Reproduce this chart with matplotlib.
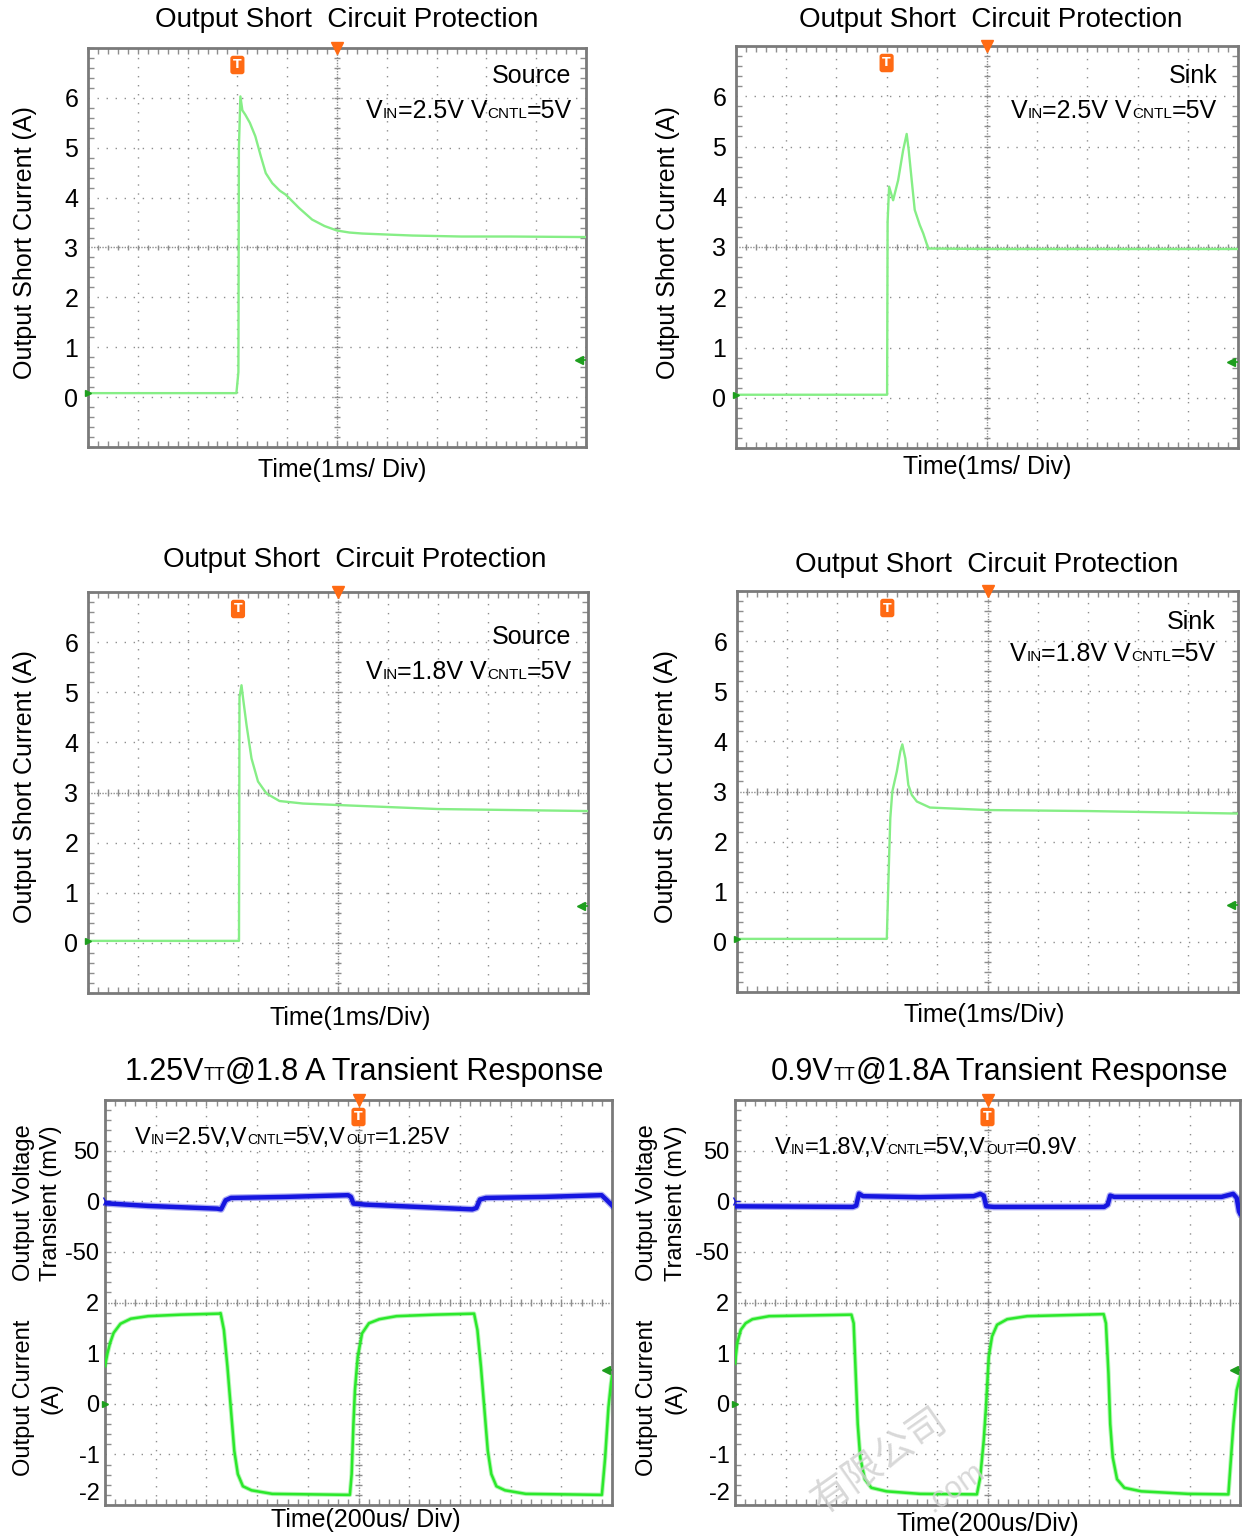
import numpy as np
import matplotlib
matplotlib.use("Agg")
import matplotlib.pyplot as plt
from matplotlib.ticker import MultipleLocator, NullLocator
from matplotlib.offsetbox import TextArea, HPacker, AnnotationBbox
from matplotlib import font_manager as fm

plt.rcParams['axes.unicode_minus'] = False

# ---------------- data ----------------
# Short-circuit panels: time in ms (1 ms/div), current in A
t_src25 = [0, 2.98, 3.02, 3.03, 3.06, 3.10, 3.16, 3.25, 3.36, 3.47, 3.57, 3.70, 3.85, 3.97,
           4.10, 4.24, 4.50, 4.75, 5.00, 5.25, 5.51, 6.0, 6.51, 7.5, 8.5, 9.87, 10.0]
i_src25 = [0.08, 0.08, 0.5, 5.0, 6.03, 5.75, 5.66, 5.50, 5.23, 4.83, 4.49, 4.29, 4.14, 4.06,
           3.93, 3.79, 3.56, 3.43, 3.34, 3.30, 3.28, 3.26, 3.24, 3.22, 3.22, 3.21, 3.21]

t_snk25 = [0, 3.01, 3.02, 3.05, 3.13, 3.23, 3.33, 3.40, 3.44, 3.50, 3.56, 3.66, 3.73, 3.83, 5.0, 10.0]
i_snk25 = [0.06, 0.06, 3.5, 4.2, 3.93, 4.33, 4.93, 5.25, 4.93, 4.33, 3.74, 3.44, 3.27, 2.97, 2.96, 2.96]

t_src18 = [0, 3.02, 3.03, 3.07, 3.10, 3.17, 3.27, 3.40, 3.57, 3.83, 4.3, 5.0, 6.0, 7.0, 8.5, 10.0]
i_src18 = [0.04, 0.04, 4.9, 5.14, 4.89, 4.35, 3.68, 3.22, 2.98, 2.83, 2.78, 2.75, 2.71, 2.67, 2.65, 2.63]

t_snk18 = [0, 2.99, 3.02, 3.06, 3.10, 3.19, 3.26, 3.30, 3.36, 3.42, 3.49, 3.59, 3.85, 5.0, 7.0, 10.0]
i_snk18 = [0.06, 0.06, 1.14, 2.47, 3.0, 3.40, 3.80, 3.94, 3.66, 3.13, 2.93, 2.80, 2.68, 2.63, 2.61, 2.56]

# Transient panels: time in us (200 us/div), voltage in mV, current in A
t_v125 = [0, 170, 442, 458, 476, 497, 714, 959, 970, 980, 1027, 1449, 1465, 1479, 1503, 1735, 1959, 1980, 2000]
v_125 = [-2, -4.6, -7.3, -8, 1, 3.3, 4.3, 6, 4.3, -2.3, -3.3, -8, -6.6, 1.7, 3.3, 4.3, 6, 1, -4]
t_i125 = [0, 10, 20, 34, 61, 102, 170, 300, 449, 456, 469, 483, 497, 510, 524, 544, 578, 660, 966,
          973, 980, 986, 997, 1014, 1041, 1082, 1150, 1300, 1456, 1469, 1483, 1497, 1510, 1524, 1544,
          1578, 1660, 1960, 1973, 1986, 1996, 2000]
i_125 = [0.75, 1.0, 1.2, 1.4, 1.58, 1.68, 1.73, 1.76, 1.78, 1.79, 1.46, 0.73, -0.13, -0.93, -1.39, -1.63,
         -1.71, -1.78, -1.80, -1.39, -0.4, 0.27, 0.93, 1.39, 1.59, 1.67, 1.73, 1.76, 1.78, 1.46, 0.73,
         -0.13, -0.93, -1.39, -1.63, -1.71, -1.78, -1.80, -1.06, -0.07, 0.4, 0.55]

t_v09 = [0, 467, 480, 491, 507, 733, 945, 971, 985, 995, 1025, 1462, 1476, 1486, 1502, 1927, 1973, 1987, 1996, 2000]
v_09 = [-5, -5.6, -4.3, 7.6, 5, 4, 5, 7.3, 5.6, -5, -5.6, -5.6, -3.3, 5.6, 4.3, 4.3, 7.3, 3.3, -10, -12]
t_i09 = [0, 9, 23, 42, 69, 135, 461, 470, 478, 486, 496, 514, 540, 600, 733, 958, 971, 985, 994, 1005,
         1018, 1038, 1078, 1157, 1460, 1469, 1479, 1486, 1496, 1513, 1542, 1609, 1794, 1954, 1974,
         1987, 2000]
i_09 = [0.8, 1.2, 1.46, 1.59, 1.67, 1.73, 1.76, 1.59, 0.6, -0.4, -1.06, -1.49, -1.66, -1.73, -1.78,
        -1.79, -1.46, -0.73, -0.07, 0.93, 1.33, 1.56, 1.67, 1.73, 1.77, 1.59, 0.6, -0.4, -1.06, -1.49,
        -1.66, -1.73, -1.78, -1.79, -0.4, 0.27, 0.53]

sc_ticks = [0, 1, 2, 3, 4, 5, 6]
v_ticks = [-50, 0, 50]
i_ticks = [-2, -1, 0, 1, 2]

sc_title = "Output Short  Circuit Protection"
sc_ylabel = "Output Short Current (A)"

# ---------------- style ----------------
def pick(names):
    for n in names:
        try:
            fm.findfont(fm.FontProperties(family=n), fallback_to_default=False)
            return n
        except Exception:
            pass
    return "DejaVu Sans"

FONT = pick(["Liberation Sans Narrow", "Liberation Sans", "Arial"])
plt.rcParams['font.family'] = [FONT, 'DejaVu Sans']
CJK = pick(["Noto Sans CJK SC", "Noto Sans CJK JP"])

GRID = "#8e8e8e"
ORANGE = "#FF6A13"
SC_GREEN = "#86EE86"
TR_GREEN = "#2BE82B"
BLUE = "#1616E0"
MARK_GREEN = "#1E9E1E"

W, H = 1245, 1537
fig = plt.figure(figsize=(W / 100, H / 100), dpi=100)


def fx(x):
    return x / W


def fy(y):
    return 1 - y / H


def add_axes(r):
    x0, y0, x1, y1 = r
    return fig.add_axes([x0 / W, 1 - y1 / H, (x1 - x0) / W, (y1 - y0) / H])


def scope_frame(ax, xlim, ylim, xdiv, ydiv):
    ax.set_xlim(*xlim)
    ax.set_ylim(*ylim)
    xc = (xlim[0] + xlim[1]) / 2
    yc = (ylim[0] + ylim[1]) / 2
    for x in np.arange(xlim[0] + xdiv, xlim[1] - xdiv / 2, xdiv):
        if abs(x - xc) > 1e-9:
            ax.axvline(x, color=GRID, lw=1.0, ls=(0, (1, 5.5)), zorder=1)
    for y in np.arange(ylim[0] + ydiv, ylim[1] - ydiv / 2, ydiv):
        if abs(y - yc) > 1e-9:
            ax.axhline(y, color=GRID, lw=1.0, ls=(0, (1, 5.5)), zorder=1)
    ax.axvline(xc, color=GRID, lw=1.0, ls=(0, (1, 1)), zorder=1)
    ax.axhline(yc, color=GRID, lw=1.0, ls=(0, (1, 1)), zorder=1)
    ty = np.arange(ylim[0], ylim[1] + 1e-9, ydiv / 5)
    ax.hlines(ty, xc - xdiv * 0.06, xc + xdiv * 0.06, color=GRID, lw=1, zorder=1)
    tx = np.arange(xlim[0], xlim[1] + 1e-9, xdiv / 5)
    ax.vlines(tx, yc - ydiv * 0.06, yc + ydiv * 0.06, color=GRID, lw=1, zorder=1)
    ax.xaxis.set_minor_locator(MultipleLocator(xdiv / 5))
    ax.yaxis.set_minor_locator(MultipleLocator(ydiv / 5))
    ax.tick_params(which='minor', direction='in', length=4, width=1, color=GRID,
                   top=True, right=True, bottom=True, left=True)
    ax.tick_params(which='major', length=0)
    ax.set_xticks([])
    for s in ax.spines.values():
        s.set_color("#7a7a7a")
        s.set_linewidth(2)


def trig_marks(ax, t_trig, xc):
    ax.annotate('T', xy=(t_trig, 1), xycoords=('data', 'axes fraction'), xytext=(0, -17),
                textcoords='offset pixels', ha='center', va='center', fontsize=9,
                color='white', fontweight='bold', family='DejaVu Sans',
                bbox=dict(boxstyle='round,pad=0.22', fc=ORANGE, ec='none'), zorder=6)
    ax.plot([xc], [1], marker='v', color=ORANGE, ms=8, clip_on=False,
            transform=ax.get_xaxis_transform(), zorder=6)


def rich(parts, xy, align, coords='figure fraction'):
    boxes = [TextArea(s, textprops=dict(fontsize=fs, family=FONT, color='black')) for s, fs in parts]
    pack = HPacker(children=boxes, align='baseline', pad=0, sep=0)
    ab = AnnotationBbox(pack, xy, xycoords=coords, box_alignment=align, frameon=False, pad=0)
    fig.add_artist(ab)


# ---------------- short-circuit panels ----------------
sc_panels = [
    dict(rect=(88, 48, 586, 447), t=t_src25, i=i_src25, title=(347, 20), xl=(342, 470),
         xlabel="Time(1ms/ Div)", yl=(25, 243), mode="Source",
         modepos=(571, 76), vpos=(572, 111), vin="2.5V", arrow=0.74),
    dict(rect=(736, 46, 1238, 448), t=t_snk25, i=i_snk25, title=(991, 20), xl=(987, 467),
         xlabel="Time(1ms/ Div)", yl=(668, 243), mode="Sink",
         modepos=(1218, 76), vpos=(1217, 111), vin="2.5V", arrow=0.72),
    dict(rect=(88, 592, 588, 993), t=t_src18, i=i_src18, title=(355, 560), xl=(350, 1018),
         xlabel="Time(1ms/Div)", yl=(25, 787), mode="Source",
         modepos=(571, 637), vpos=(572, 672), vin="1.8V", arrow=0.73),
    dict(rect=(737, 591, 1238, 992), t=t_snk18, i=i_snk18, title=(987, 565), xl=(984, 1015),
         xlabel="Time(1ms/Div)", yl=(666, 787), mode="Sink",
         modepos=(1216, 622), vpos=(1216, 654), vin="1.8V", arrow=0.73),
]

for p in sc_panels:
    ax = add_axes(p['rect'])
    scope_frame(ax, (0, 10), (-1, 7), 1, 1)
    ax.set_yticks(sc_ticks)
    ax.set_yticklabels([str(v) for v in sc_ticks])
    ax.tick_params(axis='y', which='major', labelsize=18, pad=7)
    ax.plot(p['t'], p['i'], color=SC_GREEN, lw=1.7, zorder=4, solid_joinstyle='round')
    trig_marks(ax, 3.0, 5.0)
    ax.plot([9.86], [p['arrow']], marker='<', color=MARK_GREEN, ms=6, zorder=6)
    ax.plot([9.86, 10], [p['arrow'], p['arrow']], color=MARK_GREEN, lw=1.2, zorder=6)
    ax.plot([0.0], [p['i'][0]], marker='>', color=MARK_GREEN, ms=4, clip_on=False, zorder=6)
    fig.text(fx(p['title'][0]), fy(p['title'][1]), sc_title, ha='center', va='center', fontsize=20)
    fig.text(fx(p['xl'][0]), fy(p['xl'][1]), p['xlabel'], ha='center', va='center', fontsize=18)
    fig.text(fx(p['yl'][0]), fy(p['yl'][1]), sc_ylabel, ha='center', va='center',
             fontsize=18, rotation=90)
    fig.text(fx(p['modepos'][0]), fy(p['modepos'][1]), p['mode'], ha='right', va='center', fontsize=18)
    rich([("V", 18), ("IN", 11), ("=" + p['vin'] + " V", 18), ("CNTL", 11), ("=5V", 18)],
         (fx(p['vpos'][0]), fy(p['vpos'][1])), (1, 0.5))

# ---------------- transient panels ----------------
tr_panels = [
    dict(rect=(105, 1100, 612, 1505), tv=t_v125, v=v_125, ti=t_i125, i=i_125,
         title=[("1.25V", 22), ("TT", 13), ("@1.8 A Transient Response", 22)], title_x=364,
         xl=(366, 1520), xlabel="Time(200us/ Div)", ylx=(24, 51),
         note=[("V", 17), ("IN", 10), ("=2.5V,V", 17), ("CNTL", 10), ("=5V,V", 17), ("OUT", 10),
               ("=1.25V", 17)], note_pos=(135, 1138)),
    dict(rect=(735, 1100, 1240, 1505), tv=t_v09, v=v_09, ti=t_i09, i=i_09,
         title=[("0.9V", 22), ("TT", 13), ("@1.8A Transient Response", 22)], title_x=999,
         xl=(988, 1524), xlabel="Time(200us/Div)", ylx=(647, 676),
         note=[("V", 17), ("IN", 10), ("=1.8V,V", 17), ("CNTL", 10), ("=5V,V", 17), ("OUT", 10),
               ("=0.9V", 17)], note_pos=(775, 1148)),
]

for p in tr_panels:
    ax = add_axes(p['rect'])
    scope_frame(ax, (0, 2000), (-2, 6), 200, 1)
    ax.set_yticks(i_ticks)
    labs = ax.set_yticklabels([str(v) for v in i_ticks])
    labs[0].set_va('bottom')
    ax.tick_params(axis='y', which='major', labelsize=17, pad=4)
    axv = ax.twinx()
    axv.set_ylim(-300, 100)
    axv.yaxis.set_minor_locator(NullLocator())
    axv.yaxis.tick_left()
    axv.set_yticks(v_ticks)
    axv.set_yticklabels([str(v) for v in v_ticks])
    axv.tick_params(axis='y', which='both', length=0, labelsize=17, pad=4)
    for s in axv.spines.values():
        s.set_visible(False)
    ax.plot(p['ti'], p['i'], color=TR_GREEN, lw=3.2, alpha=0.35, zorder=3)
    ax.plot(p['ti'], p['i'], color=TR_GREEN, lw=1.8, zorder=4)
    axv.plot(p['tv'], p['v'], color=BLUE, lw=5.0, alpha=0.35, zorder=3)
    axv.plot(p['tv'], p['v'], color=BLUE, lw=3.2, zorder=4)
    trig_marks(ax, 1000, 1000)
    ax.plot([1975], [0.66], marker='<', color=MARK_GREEN, ms=6, zorder=6)
    ax.plot([1975, 2000], [0.66, 0.66], color=MARK_GREEN, lw=1.2, zorder=6)
    ax.plot([0], [0], marker='>', color=MARK_GREEN, ms=5, clip_on=False, zorder=6)
    axv.plot([0], [0], marker='4', color=BLUE, ms=7, clip_on=False, zorder=6)
    rich(p['title'], (fx(p['title_x']), fy(1072)), (0.5, 0.5))
    rich(p['note'], (fx(p['note_pos'][0]), fy(p['note_pos'][1])), (0, 0.5))
    fig.text(fx(p['xl'][0]), fy(p['xl'][1]), p['xlabel'], ha='center', va='center', fontsize=18)
    fig.text(fx(p['ylx'][0]), fy(1203), "Output Voltage", ha='center', va='center',
             fontsize=17, rotation=90)
    fig.text(fx(p['ylx'][1]), fy(1203), "Transient (mV)", ha='center', va='center',
             fontsize=17, rotation=90)
    fig.text(fx(p['ylx'][0]), fy(1398), "Output Current", ha='center', va='center',
             fontsize=17, rotation=90)
    fig.text(fx(p['ylx'][1]), fy(1398), "(A)", ha='center', va='center',
             fontsize=17, rotation=90)

# faint watermark (kept inside the figure)
fig.text(fx(880), fy(1462), "有限公司", ha='center', va='center', fontsize=28, rotation=35,
         color='#cfcfcf', family=[CJK, 'DejaVu Sans'], alpha=0.8, zorder=10)
fig.text(fx(955), fy(1488), ".com", ha='center', va='center', fontsize=22, rotation=35,
         color='#cfcfcf', alpha=0.8, zorder=10)

fig.savefig("out.png", dpi=100, facecolor='white')
